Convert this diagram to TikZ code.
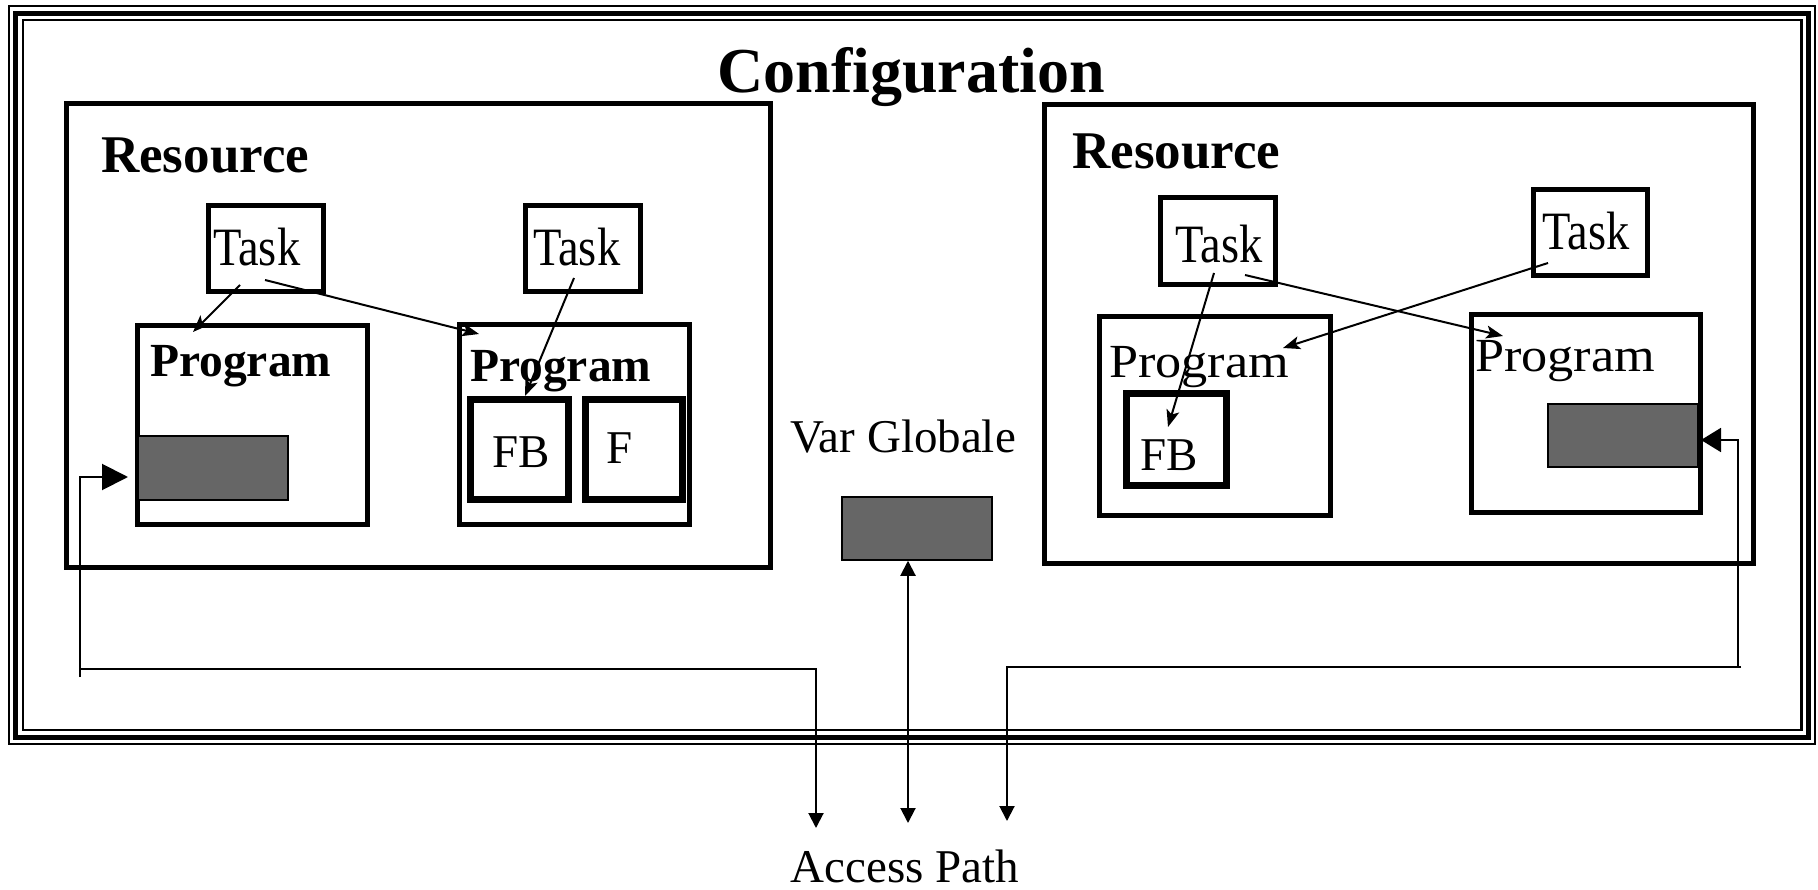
\documentclass[tikz,border=0pt]{standalone}
\usepackage{fontspec}
\setmainfont{Liberation Serif}
\usetikzlibrary{arrows.meta}
\begin{document}
\begin{tikzpicture}[x=1pt,y=-1pt,
  box/.style={draw, line width=5pt, inner sep=0pt},
  fbbox/.style={draw, line width=7pt, inner sep=0pt},
  shade/.style={draw, line width=1.5pt, fill=black!60, inner sep=0pt},
  conn/.style={line width=2pt, -{Stealth[length=17pt,width=13pt,inset=4pt]}},
  acc/.style={line width=2pt, -{Triangle[length=15pt,width=15pt]}},
  titletxt/.style={font=\fontsize{64}{70}\selectfont\bfseries, inner sep=0pt, anchor=base},
  restxt/.style={font=\fontsize{53}{60}\selectfont\bfseries, inner sep=0pt, anchor=base west},
  tasktxt/.style={font=\fontsize{54}{60}\selectfont, inner sep=0pt, anchor=base west},
  progbtxt/.style={font=\fontsize{47.5}{52}\selectfont\bfseries, inner sep=0pt, anchor=base west},
  progrtxt/.style={font=\fontsize{47.5}{52}\selectfont, inner sep=0pt, anchor=base west},
  lbl/.style={font=\fontsize{47}{50}\selectfont, inner sep=0pt, anchor=base}]
\useasboundingbox[fill=white] (0,0) rectangle (1818,890);

% configuration frame
\draw[line width=2pt] (9,6) rectangle (1815,744);
\draw[line width=5pt] (15,13.3) rectangle (1808,737);
\draw[line width=2.2pt] (23,20) rectangle (1801.5,730);
\node[titletxt] (cfg) at (911,93) {Configuration};

% left resource
\node[box, minimum width=704pt, minimum height=463pt] (lres) at (418,335.5) {};
\node[restxt] (lrest) at (101,173) {Resource};
\node[box, minimum width=115pt, minimum height=86pt] (lt1) at (266,249) {};
\node[tasktxt] (lt1t) at (213,266) {\scalebox{0.86}[1]{Task}};
\node[box, minimum width=115pt, minimum height=86pt] (lt2) at (583,249) {};
\node[tasktxt] (lt2t) at (533,266) {\scalebox{0.86}[1]{Task}};
\node[box, minimum width=229.5pt, minimum height=198.5pt] (lp1) at (252.25,424.75) {};
\node[progbtxt] (lp1t) at (150,377) {Program};
\node[shade, minimum width=150pt, minimum height=64pt] (lsh) at (213,468) {};
\node[box, minimum width=230pt, minimum height=199pt] (lp2) at (574.5,424.5) {};
\node[progbtxt] (lp2t) at (470,382) {Program};
\node[fbbox, minimum width=98pt, minimum height=100pt] (lfb) at (519.5,449.5) {};
\node[lbl] (lfbt) at (521,467) {FB};
\node[fbbox, minimum width=97pt, minimum height=100pt] (lf) at (634,449.5) {};
\node[lbl] (lft) at (620,464) {F};

% right resource
\node[box, minimum width=708.5pt, minimum height=458.5pt] (rres) at (1398.75,333.75) {};
\node[restxt] (rrest) at (1072,169) {Resource};
\node[box, minimum width=115.5pt, minimum height=86.5pt] (rt1) at (1217.75,241.25) {};
\node[tasktxt] (rt1t) at (1175,263) {\scalebox{0.86}[1]{Task}};
\node[box, minimum width=114pt, minimum height=86pt] (rt2) at (1590,233) {};
\node[tasktxt] (rt2t) at (1542,250) {\scalebox{0.86}[1]{Task}};
\node[box, minimum width=230.5pt, minimum height=198pt] (rp1) at (1214.75,416) {};
\node[progrtxt] (rp1t) at (1109,378) {\scalebox{1.1}[1]{Program}};
\node[fbbox, minimum width=100pt, minimum height=91.5pt] (rfb) at (1176.5,439.25) {};
\node[lbl] (rfbt) at (1169,470) {FB};
\node[box, minimum width=229pt, minimum height=197pt] (rp2) at (1585.5,413.5) {};
\node[progrtxt] (rp2t) at (1475,372) {\scalebox{1.1}[1]{Program}};
\node[shade, minimum width=150pt, minimum height=63pt] (rsh) at (1623,435.5) {};

% global variable
\node[lbl] (vgt) at (903,453) {Var Globale};
\node[shade, minimum width=150pt, minimum height=63pt] (vg) at (917,528.5) {};
\node[lbl] (apt) at (905,882) {Access Path};

% task -> program connectors
\coordinate (a1s) at (240,285);  \coordinate (a1e) at (193,332);
\coordinate (a2s) at (265,280);  \coordinate (a2e) at (479,334);
\coordinate (a3s) at (574,278);  \coordinate (a3e) at (525,396);
\coordinate (a4s) at (1214,273); \coordinate (a4e) at (1168,427);
\coordinate (a5s) at (1245,275); \coordinate (a5e) at (1503,336);
\coordinate (a6s) at (1548,263); \coordinate (a6e) at (1283,348);
\draw[conn] (a1s) -- (a1e);
\draw[conn] (a2s) -- (a2e);
\draw[conn] (a3s) -- (a3e);
\draw[conn] (a4s) -- (a4e);
\draw[conn] (a5s) -- (a5e);
\draw[conn] (a6s) -- (a6e);

% access paths
\coordinate (lv0) at (80,677);
\coordinate (lin) at (128,477);
\coordinate (lh0) at (80,669);
\coordinate (ldn) at (816,828);
\draw[line width=2pt, -{Triangle[length=26pt,width=26pt]}] (lv0) -- (80,477) -- (lin);
\draw[acc] (lh0) -- (816,669) -- (ldn);
\coordinate (mdn) at (908,823);
\draw[line width=2pt, {Triangle[length=15pt,width=15pt]}-{Triangle[length=15pt,width=15pt]}] (vg.south -| mdn) -- (mdn);
\coordinate (rh0) at (1741,667);
\coordinate (rdn) at (1007,821);
\draw[acc] (rh0) -- (1007,667) -- (rdn);
\coordinate (rv0) at (1738,667);
\coordinate (rin) at (1701,440);
\draw[line width=2pt, -{Triangle[length=20pt,width=24pt]}] (rv0) -- (1738,440) -- (rin);
\end{tikzpicture}
\end{document}
